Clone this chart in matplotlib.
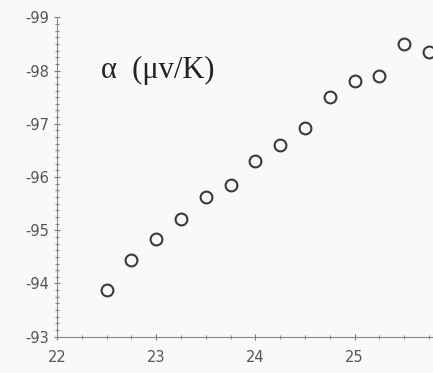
import matplotlib.pyplot as plt
from matplotlib.ticker import MultipleLocator, FuncFormatter

# temperature-like x values and alpha (uV/K)
x_vals = [22.5, 22.75, 23.0, 23.25, 23.5, 23.75, 24.0, 24.25, 24.5,
          24.75, 25.0, 25.25, 25.5, 25.75]
alpha = [-93.88, -94.44, -94.84, -95.21, -95.62, -95.85, -96.30, -96.60,
         -96.92, -97.50, -97.81, -97.89, -98.50, -98.34]

x_ticks = [22, 23, 24, 25]
y_ticks = [-99, -98, -97, -96, -95, -94, -93]

fig = plt.figure(figsize=(4.33, 3.73), dpi=100, facecolor="#f9f9f9")
ax = fig.add_axes([0.1316, 0.0973, 0.8684, 0.8563])
ax.set_facecolor("#f9f9f9")

ax.plot(x_vals, alpha, linestyle="none", marker="o", markersize=8.5,
        markerfacecolor="none", markeredgecolor="#3a3a3a", markeredgewidth=1.5,
        clip_on=False)

ax.set_xlim(22, 25.79)
ax.set_ylim(-93, -99)

ax.set_xticks(x_ticks)
ax.set_yticks(y_ticks)
ax.xaxis.set_minor_locator(MultipleLocator(0.25))
ax.yaxis.set_minor_locator(MultipleLocator(0.125))
ax.yaxis.set_major_formatter(FuncFormatter(lambda v, p: "-%d" % round(abs(v))))

for s in ["top", "right"]:
    ax.spines[s].set_visible(False)
for s in ["left", "bottom"]:
    ax.spines[s].set_color("#888888")
    ax.spines[s].set_linewidth(0.8)

ax.tick_params(which="major", direction="inout", length=5, width=0.8,
               color="#777777", labelcolor="#555555", labelsize=10.5)
ax.tick_params(which="minor", direction="inout", length=3.5, width=0.8,
               color="#888888")
ax.tick_params(axis="x", which="major", pad=7)
ax.tick_params(axis="y", which="major", pad=3)

ax.text(22.44, -98.01, "α  (μv/K)", fontsize=22, color="#222222",
        family=["Liberation Serif", "DejaVu Serif"], va="center", ha="left")

fig.savefig("out.png", dpi=100, facecolor=fig.get_facecolor())
